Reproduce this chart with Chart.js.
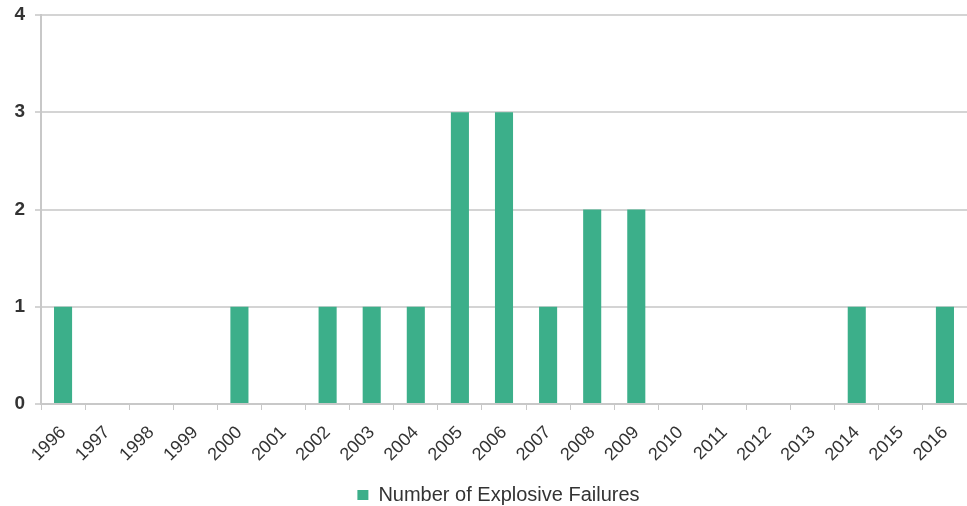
<!DOCTYPE html>
<html>
<head>
<meta charset="utf-8">
<script src="https://cdn.jsdelivr.net/npm/chart.js@4"></script>
<style>
  html, body { margin: 0; padding: 0; background: #fff; }
  #wrap { width: 967px; height: 506px; }
</style>
</head>
<body>
<div id="wrap"><canvas id="failuresChart"></canvas></div>
<script>
const years = ['1996', '1997', '1998', '1999', '2000', '2001', '2002', '2003', '2004', '2005', '2006',
    '2007', '2008', '2009', '2010', '2011', '2012', '2013', '2014', '2015', '2016'];
const failures = [1, 0, 0, 0, 1, 0, 1, 1, 1, 3, 3, 1, 2, 2, 0, 0, 0, 0, 1, 0, 1];
const yTicks = [0, 1, 2, 3, 4];

document.addEventListener('DOMContentLoaded', () => {
    const ctx = document.getElementById('failuresChart').getContext('2d');

    const data = {
        labels: years,
        datasets: [{
            label: 'Number of Explosive Failures',
            data: failures,
            backgroundColor: '#3caf8a',
            borderWidth: 0,
            barPercentage: 0.82,
            categoryPercentage: 0.5
        }]
    };

    // legend sits a little right of centre in the original
    const legendShift = {
        id: 'legendShift',
        afterLayout: (chart) => { chart.legend.left += 30; }
    };

    const config = {
        type: 'bar',
        data: data,
        plugins: [legendShift],
        options: {
            responsive: true,
            maintainAspectRatio: false,
            animation: false,
            layout: { padding: { top: 15, right: 0, left: 0, bottom: -9 } },
            plugins: {
                tooltip: { enabled: false },
                legend: {
                    position: 'bottom',
                    labels: {
                        boxWidth: 11,
                        boxHeight: 10,
                        padding: 0,
                        color: '#333',
                        font: { family: 'Liberation Sans, Arial, sans-serif', size: 20 }
                    }
                }
            },
            scales: {
                x: {
                    grid: {
                        display: true,
                        drawOnChartArea: false,
                        drawTicks: true,
                        tickLength: 6,
                        color: '#c8c8c8'
                    },
                    border: { color: '#c8c8c8', width: 2 },
                    ticks: {
                        color: '#333',
                        minRotation: 45,
                        maxRotation: 45,
                        autoSkip: false,
                        padding: 12,
                        font: { family: 'Liberation Sans, Arial, sans-serif', size: 18 }
                    },
                    afterFit: (scale) => {
                        scale.height = 81;
                        scale.paddingLeft = 0;
                        scale.paddingRight = 0;
                    }
                },
                y: {
                    min: 0,
                    max: 4,
                    afterBuildTicks: (scale) => { scale.ticks = yTicks.map(v => ({ value: v })); },
                    grid: { color: '#d4d4d4', lineWidth: 2, tickLength: 6 },
                    border: { color: '#c8c8c8', width: 2 },
                    ticks: {
                        color: '#333',
                        padding: 10,
                        font: { family: 'Liberation Sans, Arial, sans-serif', size: 19, weight: 'bold' }
                    },
                    afterFit: (scale) => {
                        scale.width = 41;
                        scale.paddingTop = 0;
                        scale.paddingBottom = 0;
                    }
                }
            }
        }
    };

    new Chart(ctx, config);
});
</script>
</body>
</html>
